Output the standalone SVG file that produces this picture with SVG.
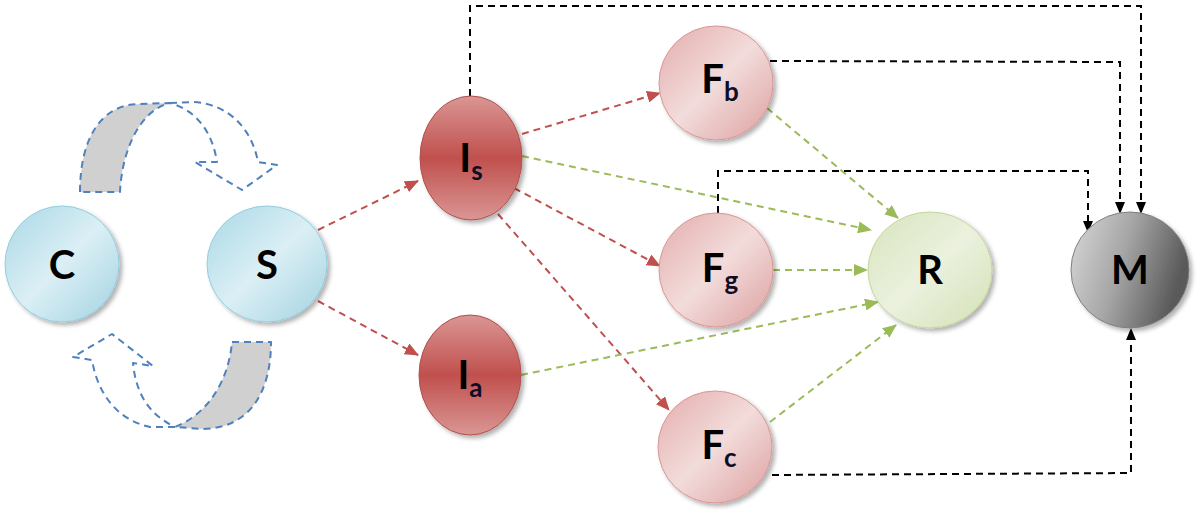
<svg xmlns="http://www.w3.org/2000/svg" width="1200" height="512" viewBox="0 0 1200 512">
<style>
.lbl{font-family:Lato,"Open Sans","Liberation Sans",sans-serif;font-weight:bold;fill:#000;text-anchor:middle}
.main{font-size:40px}
.sub{font-size:26px;fill:#0d0d26}
.red{stroke:#c0504d;stroke-width:2;stroke-dasharray:7,5;fill:none}
.grn{stroke:#9bbb59;stroke-width:2;stroke-dasharray:7,5;fill:none}
.blk{stroke:#000;stroke-width:2;stroke-dasharray:7,5;fill:none}
.cyc{stroke:#4f81bd;stroke-width:2;stroke-dasharray:7,5;stroke-linejoin:round}
</style>
<defs>
<filter id="sh" x="-20%" y="-20%" width="150%" height="150%"><feDropShadow dx="3" dy="3" stdDeviation="2" flood-color="#000" flood-opacity="0.3"/></filter>
<linearGradient id="gBlue" x1="0" y1="0" x2="1" y2="1"><stop offset="0" stop-color="#a9d8e6"/><stop offset="0.5" stop-color="#dbeff5"/><stop offset="1" stop-color="#a2d2e0"/></linearGradient>
<linearGradient id="gRed" x1="0" y1="0" x2="0" y2="1"><stop offset="0" stop-color="#da9694"/><stop offset="0.5" stop-color="#c0504d"/><stop offset="1" stop-color="#da9694"/></linearGradient>
<linearGradient id="gPink" x1="0" y1="0" x2="1" y2="1"><stop offset="0" stop-color="#e3adac"/><stop offset="0.5" stop-color="#f2dcdb"/><stop offset="1" stop-color="#dca09f"/></linearGradient>
<linearGradient id="gGreen" x1="0" y1="0" x2="1" y2="1"><stop offset="0" stop-color="#d7e4bd"/><stop offset="0.5" stop-color="#ebf1de"/><stop offset="1" stop-color="#d3e1b6"/></linearGradient>
<linearGradient id="gGray" x1="0" y1="0" x2="1" y2="0.3"><stop offset="0" stop-color="#d9d9d9"/><stop offset="0.5" stop-color="#a6a6a6"/><stop offset="1" stop-color="#5a5a5a"/></linearGradient>
<marker id="aR" markerUnits="userSpaceOnUse" markerWidth="14" markerHeight="12" refX="13" refY="6" orient="auto"><path d="M0,0 L14,6 L0,12 z" fill="#c0504d"/></marker>
<marker id="aG" markerUnits="userSpaceOnUse" markerWidth="14" markerHeight="12" refX="13" refY="6" orient="auto"><path d="M0,0 L14,6 L0,12 z" fill="#9bbb59"/></marker>
<marker id="aK" markerUnits="userSpaceOnUse" markerWidth="12" markerHeight="10" refX="11" refY="5" orient="auto"><path d="M0,0 L12,5 L0,10 z" fill="#000"/></marker>
</defs>
<rect width="1200" height="512" fill="#fff"/>

<g id="cycle-top">
<path class="cyc" fill="#d0d0d0" d="M80,192 C80,140 100,104 140,104 L170,103 C140,110 122,150 120,192 Z"/>
<path class="cyc" fill="none" d="M170,103 L193,102 C230,104 252,130 258,162 L277,165 L242,190 L195,162 L217,162 C212,130 195,110 170,103"/>
</g>
<g id="cycle-bottom">
<path class="cyc" fill="#d0d0d0" d="M232,342 L271,342 C271,392 250,428 203,429 L175,427 C205,415 228,385 232,342 Z"/>
<path class="cyc" fill="none" d="M175,427 L150,427 C118,420 98,395 92,360 L73,357 L112,334 L153,366 L133,363 C136,395 150,415 175,427"/>
</g>

<g id="connectors">
<line class="red" x1="318" y1="230" x2="418" y2="181" marker-end="url(#aR)"/>
<line class="red" x1="318" y1="301" x2="418" y2="355" marker-end="url(#aR)"/>
<line class="red" x1="522" y1="134" x2="660" y2="93" marker-end="url(#aR)"/>
<line class="red" x1="514" y1="188" x2="660" y2="266" marker-end="url(#aR)"/>
<line class="red" x1="498" y1="214" x2="669" y2="410" marker-end="url(#aR)"/>
<line class="grn" x1="522" y1="156" x2="871" y2="230" marker-end="url(#aG)"/>
<line class="grn" x1="767" y1="108" x2="898" y2="218" marker-end="url(#aG)"/>
<line class="grn" x1="773" y1="270" x2="867" y2="270" marker-end="url(#aG)"/>
<line class="grn" x1="521" y1="375" x2="878" y2="302" marker-end="url(#aG)"/>
<line class="grn" x1="770" y1="422" x2="896" y2="325" marker-end="url(#aG)"/>
<path class="blk" d="M470,96 L470,6 L1141,6 L1141,213" marker-end="url(#aK)"/>
<path class="blk" d="M770,61 L1120,62 L1120,213" marker-end="url(#aK)"/>
<path class="blk" d="M718,213 L718,171 L1088,171 L1088,232" marker-end="url(#aK)"/>
<path class="blk" d="M772,475 L1131,473 L1131,329" marker-end="url(#aK)"/>
</g>

<g id="node-C"><ellipse cx="62" cy="264" rx="57" ry="58" fill="url(#gBlue)" stroke="#93cddd" stroke-width="1" filter="url(#sh)"/><text class="lbl main" x="62" y="279">C</text></g>
<g id="node-S"><ellipse cx="267" cy="264" rx="60" ry="58" fill="url(#gBlue)" stroke="#93cddd" stroke-width="1" filter="url(#sh)"/><text class="lbl main" x="267" y="279">S</text></g>
<g id="node-Is"><ellipse cx="471" cy="158" rx="51" ry="62" fill="url(#gRed)" stroke="#b0504d" stroke-width="1" filter="url(#sh)"/><text class="lbl main" x="471" y="172">I<tspan class="sub" dy="8">s</tspan></text></g>
<g id="node-Ia"><ellipse cx="470" cy="375" rx="51" ry="60" fill="url(#gRed)" stroke="#b0504d" stroke-width="1" filter="url(#sh)"/><text class="lbl main" x="470" y="389">I<tspan class="sub" dy="8">a</tspan></text></g>
<g id="node-Fb"><ellipse cx="716" cy="83" rx="57" ry="57" fill="url(#gPink)" stroke="#d99694" stroke-width="1" filter="url(#sh)"/><text class="lbl main" x="720" y="93">F<tspan class="sub" dy="8">b</tspan></text></g>
<g id="node-Fg"><ellipse cx="716" cy="270" rx="57" ry="57" fill="url(#gPink)" stroke="#d99694" stroke-width="1" filter="url(#sh)"/><text class="lbl main" x="720" y="282">F<tspan class="sub" dy="8">g</tspan></text></g>
<g id="node-Fc"><ellipse cx="715" cy="447" rx="57" ry="56" fill="url(#gPink)" stroke="#d99694" stroke-width="1" filter="url(#sh)"/><text class="lbl main" x="719" y="459">F<tspan class="sub" dy="8">c</tspan></text></g>
<g id="node-R"><ellipse cx="930" cy="270" rx="62" ry="58" fill="url(#gGreen)" stroke="#c3d69b" stroke-width="1" filter="url(#sh)"/><text class="lbl main" x="930" y="284">R</text></g>
<g id="node-M"><ellipse cx="1130" cy="270" rx="59" ry="58" fill="url(#gGray)" stroke="#7f7f7f" stroke-width="1" filter="url(#sh)"/><text class="lbl main" x="1130" y="284">M</text></g>
</svg>
